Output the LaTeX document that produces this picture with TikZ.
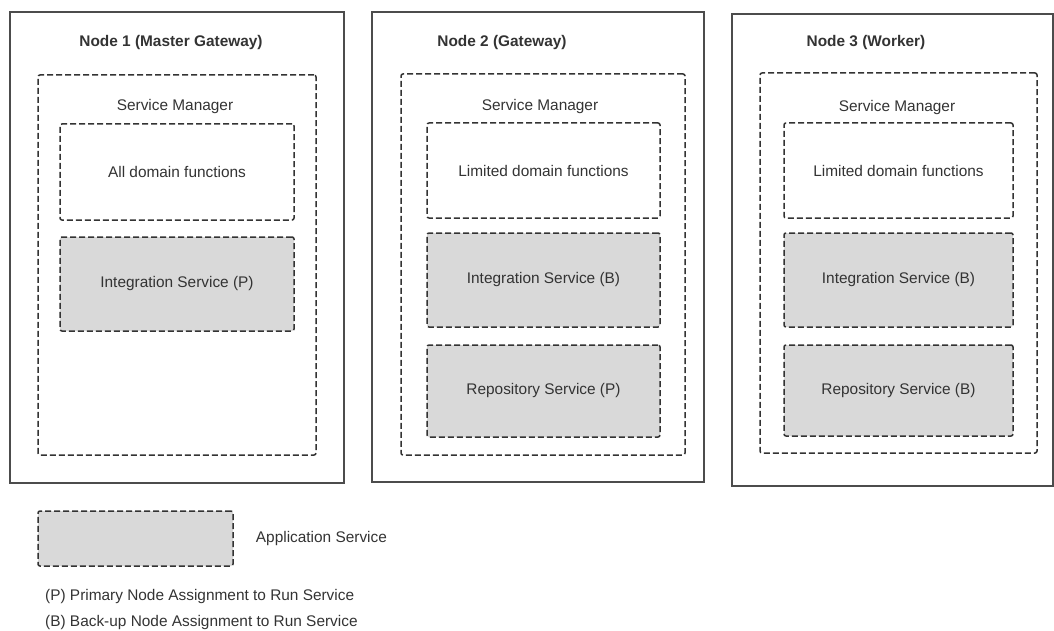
\documentclass[tikz,border=0pt]{standalone}
\usepackage{fontspec}
\setmainfont{Liberation Sans}
\usetikzlibrary{positioning}

\begin{document}
\begin{tikzpicture}[x=1pt,y=-1pt,
    every node/.style={font=\fontsize{15.4}{18}\selectfont,text=black!80},
    nodebox/.style={draw=black!70,line width=1.4pt,rectangle,inner sep=0pt},
    dashbox/.style={draw=black!80,line width=1.5pt,dash pattern=on 6pt off 3pt,rounded corners=2pt,rectangle,inner sep=0pt},
    svcbox/.style={dashbox,fill=black!15}]
    \useasboundingbox (0,0) rectangle (1054,631);

    % the three nodes
    \node (nd1) [nodebox,minimum width=334pt,minimum height=471pt] at (177,247.5) {};
    \node (nd2) [nodebox,minimum width=332pt,minimum height=470pt] at (538,247) {};
    \node (nd3) [nodebox,minimum width=321pt,minimum height=472pt] at (892.5,250) {};

    \node (ttl1) at (171,43) {\textbf{Node 1 (Master Gateway)}};
    \node (ttl2) at (502,43) {\textbf{Node 2 (Gateway)}};
    \node (ttl3) at (866,43) {\textbf{Node 3 (Worker)}};

    % service managers
    \node (sm1) [dashbox,minimum width=278pt,minimum height=380pt] at (177,265) {};
    \node (sm2) [dashbox,minimum width=284pt,minimum height=381pt] at (543,264.5) {};
    \node (sm3) [dashbox,minimum width=277pt,minimum height=380pt] at (898.5,263) {};

    \node (smlbl1) at (175,107) {Service Manager};
    \node (smlbl2) at (540,107) {Service Manager};
    \node (smlbl3) at (897,108) {Service Manager};

    \node (dom1) [dashbox,minimum width=234pt,minimum height=96pt] at (177,172) {All domain functions};
    \node (dom2) [dashbox,minimum width=233pt,minimum height=95pt] at (543.5,170.5) {Limited domain functions};
    \node (dom3) [dashbox,minimum width=229pt,minimum height=95pt] at (898.5,170.5) {Limited domain functions};

    % application services
    \node (isvc1) [svcbox,minimum width=234pt,minimum height=94pt] at (177,284) {Integration Service (P)};
    \node (isvc2) [svcbox,minimum width=233pt,minimum height=94pt] at (543.5,280) {Integration Service (B)};
    \node (isvc3) [svcbox,minimum width=229pt,minimum height=94pt] at (898.5,280) {Integration Service (B)};
    \node (rsvc2) [svcbox,minimum width=233pt,minimum height=92pt] at (543.5,391) {Repository Service (P)};
    \node (rsvc3) [svcbox,minimum width=229pt,minimum height=91pt] at (898.5,390.5) {Repository Service (B)};

    % legend
    \node (leg) [svcbox,minimum width=195pt,minimum height=55pt] at (135.5,538.5) {};
    \node (legtxt) [right=22pt of leg,inner sep=0pt] {Application Service};
    \node (legp) [anchor=west,inner sep=0pt] at (45,597) {(P) Primary Node Assignment to Run Service};
    \node (legb) [anchor=west,inner sep=0pt] at (45,623) {(B) Back-up Node Assignment to Run Service};
\end{tikzpicture}
\end{document}
